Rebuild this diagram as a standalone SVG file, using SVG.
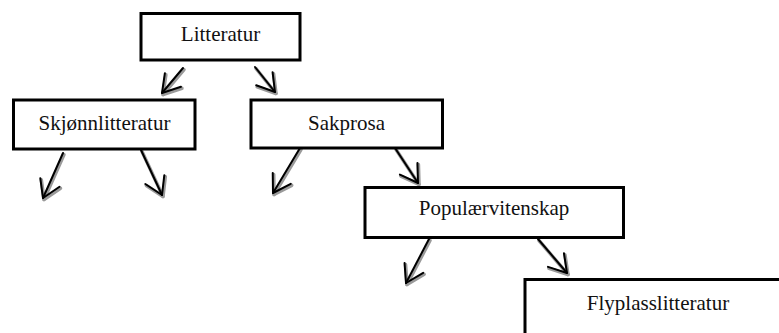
<svg xmlns="http://www.w3.org/2000/svg" width="779" height="333" viewBox="0 0 779 333">
  <style>
    .box { fill: #ffffff; stroke: #000000; stroke-width: 3; }
    .label { font-family: "Liberation Serif", "Times New Roman", serif; font-size: 21px; fill: #111111; text-anchor: middle; }
    .shade { fill: none; stroke: #9a9a9a; stroke-width: 3.5; stroke-linecap: round; }
    .ink { fill: none; stroke: #000000; stroke-width: 2; stroke-linecap: round; }
  </style>
  <defs>
    <marker id="headShade" markerUnits="userSpaceOnUse" viewBox="-22 -13 26 26" refX="0" refY="0" markerWidth="26" markerHeight="26" orient="auto" overflow="visible">
      <path d="M-17,-10.5 L0,0 L-17,10.5" fill="none" stroke="#9a9a9a" stroke-width="3.5" stroke-linecap="round" stroke-linejoin="round"/>
    </marker>
    <marker id="headInk" markerUnits="userSpaceOnUse" viewBox="-22 -13 26 26" refX="0" refY="0" markerWidth="26" markerHeight="26" orient="auto" overflow="visible">
      <path d="M-17,-10.5 L0,0 L-17,10.5" fill="none" stroke="#000000" stroke-width="2" stroke-linecap="round" stroke-linejoin="round"/>
    </marker>
  </defs>

  <!-- connectors: grey pencil shading under the black strokes -->
  <g id="connectors">
    <g transform="translate(1,1.5)">
      <path class="shade" marker-end="url(#headShade)" d="M183,68 L162,93"/>
      <path class="shade" marker-end="url(#headShade)" d="M255,67 L275,92"/>
      <path class="shade" marker-end="url(#headShade)" d="M63,153 L43,198"/>
      <path class="shade" marker-end="url(#headShade)" d="M141,150 L162,195"/>
      <path class="shade" marker-end="url(#headShade)" d="M300,148 L273,193"/>
      <path class="shade" marker-end="url(#headShade)" d="M395,148 L418,183"/>
      <path class="shade" marker-end="url(#headShade)" d="M429,239 L406,283"/>
      <path class="shade" marker-end="url(#headShade)" d="M538,239 L567,273"/>
    </g>
    <path class="ink" marker-end="url(#headInk)" d="M183,68 L162,93"/>
    <path class="ink" marker-end="url(#headInk)" d="M255,67 L275,92"/>
    <path class="ink" marker-end="url(#headInk)" d="M63,153 L43,198"/>
    <path class="ink" marker-end="url(#headInk)" d="M141,150 L162,195"/>
    <path class="ink" marker-end="url(#headInk)" d="M300,148 L273,193"/>
    <path class="ink" marker-end="url(#headInk)" d="M395,148 L418,183"/>
    <path class="ink" marker-end="url(#headInk)" d="M429,239 L406,283"/>
    <path class="ink" marker-end="url(#headInk)" d="M538,239 L567,273"/>
  </g>

  <g id="litteratur">
    <rect class="box" x="141" y="13.5" width="159" height="46.5"/>
    <text class="label" x="220.5" y="40.5">Litteratur</text>
  </g>
  <g id="skjonnlitteratur">
    <rect class="box" x="13.5" y="100" width="181.5" height="49"/>
    <text class="label" x="104.5" y="130">Skjønnlitteratur</text>
  </g>
  <g id="sakprosa">
    <rect class="box" x="251" y="100" width="191.5" height="48"/>
    <text class="label" x="346.5" y="130">Sakprosa</text>
  </g>
  <g id="popularvitenskap">
    <rect class="box" x="365" y="187.5" width="258.5" height="50"/>
    <text class="label" x="494" y="215">Populærvitenskap</text>
  </g>
  <g id="flyplasslitteratur">
    <rect class="box" x="525" y="279.5" width="270" height="80"/>
    <text class="label" x="658" y="310">Flyplasslitteratur</text>
  </g>
</svg>
